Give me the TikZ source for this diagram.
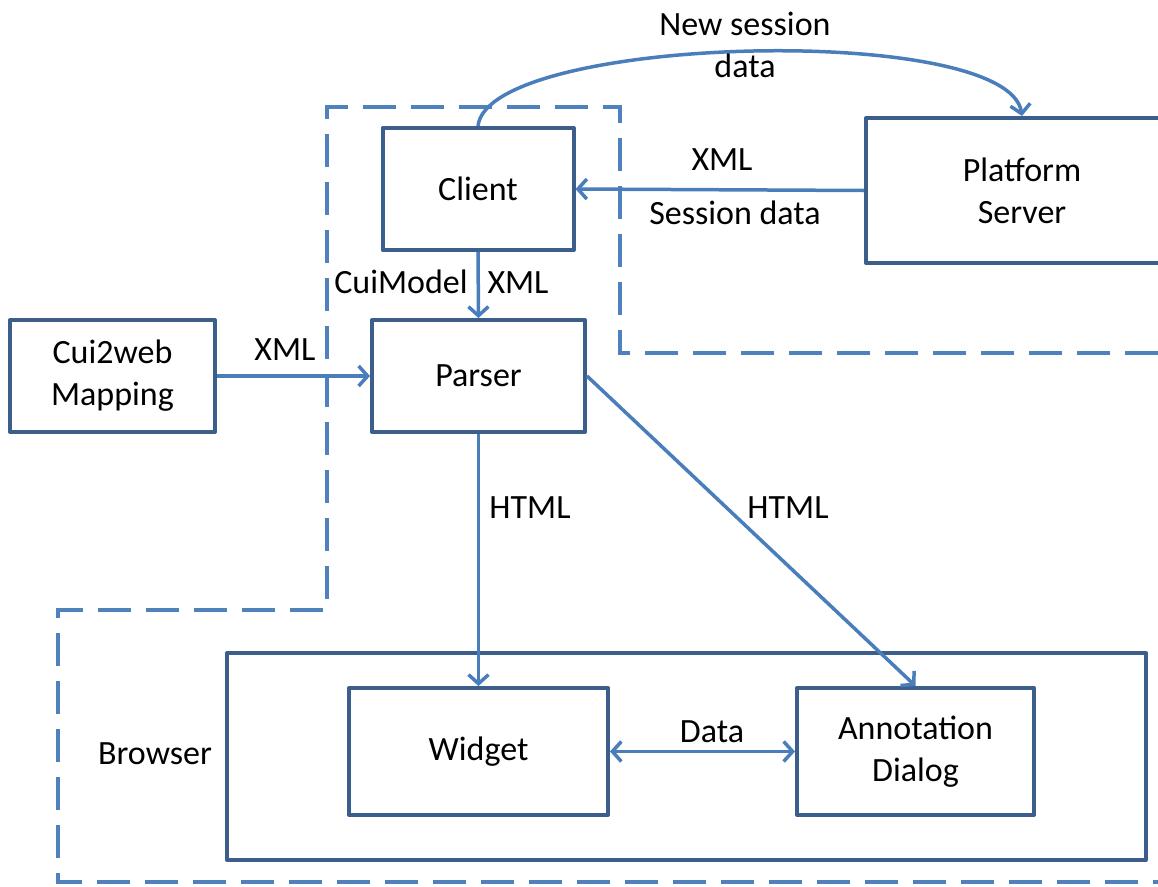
\documentclass[tikz,border=0pt]{standalone}
\usepackage{fontspec}
\setmainfont{Carlito}
\usetikzlibrary{arrows.meta}
\definecolor{boxc}{HTML}{3B5E8C}
\definecolor{linec}{HTML}{4A7EBB}
\definecolor{dashc}{HTML}{4F81BD}
\begin{document}
\begin{tikzpicture}[x=1pt,y=-1pt,
  every node/.style={font=\fontsize{34}{42}\selectfont, text=black},
  box/.style={draw=boxc, line width=4pt, fill=none, inner sep=0pt, align=center, line join=round},
  conn/.style={draw=linec, line width=3.5pt, -{Straight Barb[length=9pt,width=20pt,line width=3.5pt]}},
  lbl/.style={inner sep=0pt, align=center},
  region/.style={draw=dashc, line width=4pt, dash pattern=on 33pt off 15pt}]
\useasboundingbox (0,0) rectangle (1158,886);
% dashed region
\draw[region] (1158,353) -- (620,353) -- (620,107) -- (327,107) -- (327,610) -- (58,610) -- (58,882) -- (1158,882);
% boxes
\node[box, minimum width=191pt, minimum height=122pt] (client) at (478,189) {Client};
\node[box, minimum width=312pt, minimum height=145pt] (platform) at (1022,190.5) {Platform\\Server};
\node[box, minimum width=205pt, minimum height=112pt] (cui) at (112.5,376) {Cui2web\\Mapping};
\node[box, minimum width=213pt, minimum height=112pt] (parser) at (478.5,376) {Parser};
\node[box, minimum width=919pt, minimum height=207pt] (browser) at (686.5,756.5) {};
\node[box, minimum width=259pt, minimum height=127pt] (widget) at (478.5,751.5) {Widget};
\node[box, minimum width=237pt, minimum height=127pt] (annot) at (915.5,751.5) {Annotation\\Dialog};
\node[lbl] (browserlbl) at (155,754) {Browser};
% connectors
\draw[conn] (platform.west) -- (client.east);
\draw[conn] (client.south) -- (parser.north);
\draw[conn] (cui.east) -- (parser.west);
\draw[conn] (parser.south) -- (widget.north);
\draw[conn] (parser.east) -- (annot.north);
\draw[draw=linec, line width=3.5pt, {Straight Barb[length=9pt,width=20pt,line width=3.5pt]}-{Straight Barb[length=9pt,width=20pt,line width=3.5pt]}] (widget.east) -- (annot.west);
\draw[conn] (client.north) .. controls (488,35) and (1008,22) .. (platform.north);
% labels
\node[lbl] (l1) at (745,45) {New session\\data};
\node[lbl] (l2) at (722,160) {XML};
\node[lbl] (l3) at (735,213) {Session data};
\node[lbl] (l4) at (401,282) {CuiModel};
\node[lbl] (l5) at (518,283) {XML};
\node[lbl] (l6) at (285,350) {XML};
\node[lbl] (l7) at (530,508) {HTML};
\node[lbl] (l8) at (788,508) {HTML};
\node[lbl] (l9) at (712,732) {Data};
\end{tikzpicture}
\end{document}
